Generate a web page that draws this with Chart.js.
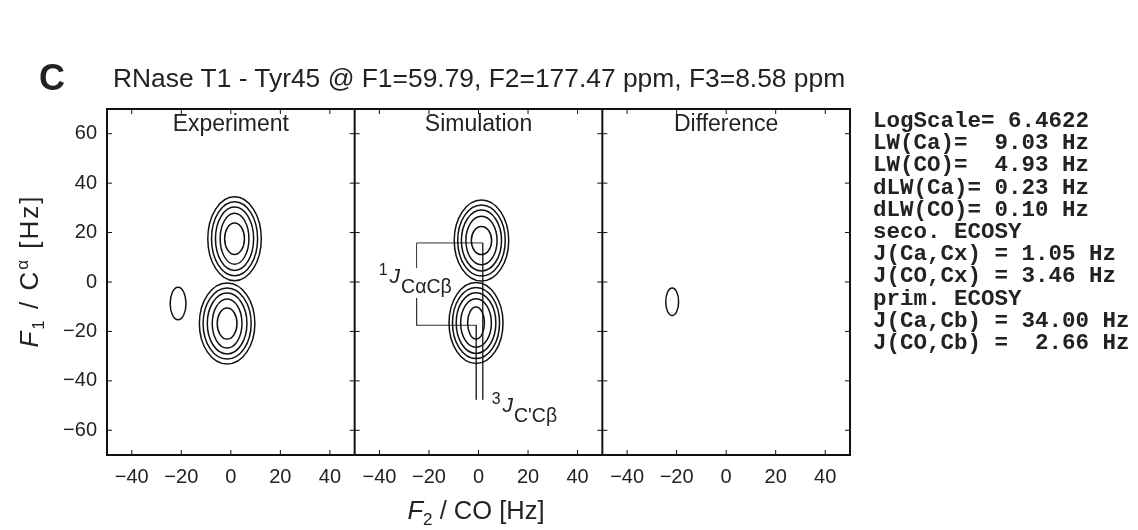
<!DOCTYPE html>
<html>
<head>
<meta charset="utf-8">
<script src="https://cdn.jsdelivr.net/npm/chart.js@4.4.0/dist/chart.umd.min.js"></script>
<style>
    body { margin: 0; background: #fff; }
    #wrap { position: relative; width: 1138px; height: 530px; font-family: "Liberation Sans", Arial, sans-serif; color: #222; }
    #plot { position: absolute; left: 0; top: 0; }
    .txt { position: absolute; white-space: nowrap; }
    #letter { left: 39px; top: 60px; font-size: 36px; font-weight: bold; line-height: 36px; }
    #title { left: 113px; top: 64px; font-size: 26.4px; line-height: 28px; }
    #info { left: 873px; top: 110px; margin: 0; white-space: pre; font-family: "Liberation Mono", "Courier New", monospace; font-weight: bold; font-size: 22.5px; line-height: 22.2px; }
    #xtitle { left: 476px; top: 497px; transform: translateX(-50%); font-size: 25.5px; line-height: 27px; }
    #ytitle { left: 31px; top: 271px; transform: translate(-50%, -50%) rotate(-90deg); font-size: 26px; line-height: 28px; letter-spacing: 2px; }
    sub, sup { font-size: 17px; }
</style>
</head>
<body>
<div id="wrap">
    <canvas id="plot" width="1138" height="530"></canvas>
    <div class="txt" id="letter">C</div>
    <div class="txt" id="title">RNase T1 - Tyr45 @ F1=59.79, F2=177.47 ppm, F3=8.58 ppm</div>
    <pre class="txt" id="info"></pre>
    <div class="txt" id="xtitle"><i>F</i><sub>2</sub> / CO [Hz]</div>
    <div class="txt" id="ytitle"><i>F</i><sub>1</sub> / C<sup>&alpha;</sup> [Hz]</div>
</div>
<script>
// panels share one y axis, x axis is split in three 100 Hz wide windows
const panelNames = ['Experiment', 'Simulation', 'Difference'];
const panelOffsets = [0, 100, 200];
const xTicks = [-40, -20, 0, 20, 40];
const yTicks = [-60, -40, -20, 0, 20, 40, 60];

// contour rings: centre [F2, F1] in Hz, half widths per level (outer -> inner)
const expUpperCentre = [1.5, 17.5];
const expUpperRx = [10.8, 9.3, 7.7, 5.8, 4.0];
const expUpperRy = [17.0, 15.0, 12.8, 10.3, 6.4];
const expLowerCentre = [-1.5, -16.8];
const expLowerRx = [11.2, 9.7, 8.0, 6.0, 4.0];
const expLowerRy = [16.4, 14.4, 12.3, 9.9, 6.3];
const expSideCentre = [-21.3, -8.7];
const expSideRx = [3.2];
const expSideRy = [6.6];

const simUpperCentre = [1.2, 16.8];
const simUpperRx = [11.0, 9.6, 8.1, 6.3, 4.1];
const simUpperRy = [16.4, 14.4, 12.3, 9.8, 5.7];
const simLowerCentre = [-1.0, -16.6];
const simLowerRx = [10.9, 9.5, 8.0, 6.2, 3.4];
const simLowerRy = [16.4, 14.4, 12.3, 9.8, 6.5];

const diffCentre = [-21.8, -8.0];
const diffRx = [2.6];
const diffRy = [5.6];

// coupling markers in the simulation panel
const jOneUpper = [[-25, 5.6], [-25, 15.8], [1.7, 15.8], [1.7, -47.6]];
const jOneLower = [[-25, -6.5], [-25, -17.5], [-0.9, -17.5], [-0.9, -47.6]];

const infoLines = [
    'LogScale= 6.4622',
    'LW(Ca)=  9.03 Hz',
    'LW(CO)=  4.93 Hz',
    'dLW(Ca)= 0.23 Hz',
    'dLW(CO)= 0.10 Hz',
    'seco. ECOSY',
    'J(Ca,Cx) = 1.05 Hz',
    'J(CO,Cx) = 3.46 Hz',
    'prim. ECOSY',
    'J(Ca,Cb) = 34.00 Hz',
    'J(CO,Cb) =  2.66 Hz'
];
document.querySelector('#info').textContent = infoLines.join('\n');

const peaks = [
    { panel: 0, c: expUpperCentre, rx: expUpperRx, ry: expUpperRy },
    { panel: 0, c: expLowerCentre, rx: expLowerRx, ry: expLowerRy },
    { panel: 0, c: expSideCentre, rx: expSideRx, ry: expSideRy },
    { panel: 1, c: simUpperCentre, rx: simUpperRx, ry: simUpperRy },
    { panel: 1, c: simLowerCentre, rx: simLowerRx, ry: simLowerRy },
    { panel: 2, c: diffCentre, rx: diffRx, ry: diffRy }
];

let allXTicks = [];
panelOffsets.forEach(off => xTicks.forEach(t => allXTicks.push(t + off)));

function toPanel(points, panel) {
    return points.map(p => ({ x: p[0] + panelOffsets[panel], y: p[1] }));
}

const fontFamily = '"Liberation Sans", Arial, sans-serif';

const framePlugin = {
    id: 'frame',
    afterDatasetsDraw(chart) {
        const ctx = chart.ctx;
        const area = chart.chartArea;
        const xs = chart.scales.x, ys = chart.scales.y;
        ctx.save();

        // contours
        ctx.strokeStyle = '#111';
        ctx.lineWidth = 1.5;
        for (let pk of peaks) {
            let cx = xs.getPixelForValue(pk.c[0] + panelOffsets[pk.panel]);
            let cy = ys.getPixelForValue(pk.c[1]);
            for (let i = 0; i < pk.rx.length; i++) {
                let rx = xs.getPixelForValue(pk.c[0] + pk.rx[i] + panelOffsets[pk.panel]) - cx;
                let ry = cy - ys.getPixelForValue(pk.c[1] + pk.ry[i]);
                ctx.beginPath();
                ctx.ellipse(cx, cy, rx, ry, 0, 0, Math.PI * 2);
                ctx.stroke();
            }
        }

        // frame and dividers
        ctx.strokeStyle = '#111';
        ctx.lineWidth = 2;
        ctx.strokeRect(area.left, area.top, area.right - area.left, area.bottom - area.top);
        for (let b of [50, 150]) {
            let px = xs.getPixelForValue(b);
            ctx.beginPath();
            ctx.moveTo(px, area.top);
            ctx.lineTo(px, area.bottom);
            ctx.stroke();
        }

        // inward ticks
        ctx.lineWidth = 1;
        const len = 5;
        for (let v of allXTicks) {
            let px = xs.getPixelForValue(v);
            ctx.beginPath();
            ctx.moveTo(px, area.bottom);
            ctx.lineTo(px, area.bottom - len);
            ctx.moveTo(px, area.top);
            ctx.lineTo(px, area.top + len);
            ctx.stroke();
        }
        for (let b of [-50, 50, 150, 250]) {
            let px = xs.getPixelForValue(b);
            for (let v of yTicks) {
                let py = ys.getPixelForValue(v);
                ctx.beginPath();
                if (b < 250) { ctx.moveTo(px, py); ctx.lineTo(px + len, py); }
                if (b > -50) { ctx.moveTo(px, py); ctx.lineTo(px - len, py); }
                ctx.stroke();
            }
        }

        // panel names
        ctx.fillStyle = '#222';
        ctx.font = '23px ' + fontFamily;
        ctx.textAlign = 'center';
        ctx.textBaseline = 'middle';
        panelNames.forEach((name, i) => {
            ctx.fillText(name, xs.getPixelForValue(panelOffsets[i]), area.top + 16);
        });

        // coupling labels
        drawJ(ctx, xs.getPixelForValue(-35.9 + 100), ys.getPixelForValue(-0.3), '1', 'C\u03b1C\u03b2');
        drawJ(ctx, xs.getPixelForValue(9.7 + 100), ys.getPixelForValue(-52.4), '3', "C'C\u03b2");
        ctx.restore();
    }
};

function drawJ(ctx, x, y, sup, sub) {
    ctx.textAlign = 'left';
    ctx.textBaseline = 'alphabetic';
    ctx.font = '16px ' + fontFamily;
    let w = ctx.measureText(sup).width;
    ctx.fillText(sup, x - w - 2, y - 8);
    ctx.font = 'italic 21px ' + fontFamily;
    let jw = ctx.measureText('J').width;
    ctx.fillText('J', x, y);
    ctx.font = '19.5px ' + fontFamily;
    ctx.fillText(sub, x + jw + 1, y + 10);
}

const lineStyle = { showLine: true, pointRadius: 0, borderColor: '#333', borderWidth: 1, fill: false };

new Chart(document.querySelector('#plot'), {
    type: 'scatter',
    data: {
        datasets: [
            Object.assign({ data: toPanel(jOneUpper, 1) }, lineStyle),
            Object.assign({ data: toPanel(jOneLower, 1) }, lineStyle)
        ]
    },
    options: {
        responsive: false,
        animation: false,
        devicePixelRatio: 1,
        layout: { padding: { left: 0, top: 109, right: 288, bottom: 0 } },
        plugins: { legend: { display: false }, tooltip: { enabled: false } },
        scales: {
            x: {
                type: 'linear',
                min: -50,
                max: 250,
                grid: { display: false, drawTicks: false },
                border: { display: false },
                afterBuildTicks: s => { s.ticks = allXTicks.map(v => ({ value: v })); },
                afterFit: s => { s.height = 75; },
                ticks: {
                    color: '#222',
                    padding: 10,
                    maxRotation: 0,
                    autoSkip: false,
                    font: { family: fontFamily, size: 20 },
                    callback: v => {
                        let t = v - 100 * Math.round(v / 100);
                        return t < 0 ? '\u2212' + Math.abs(t) : String(t);
                    }
                }
            },
            y: {
                type: 'linear',
                min: -70,
                max: 70,
                grid: { display: false, drawTicks: false },
                border: { display: false },
                afterBuildTicks: s => { s.ticks = yTicks.map(v => ({ value: v })); },
                afterFit: s => { s.width = 107; },
                ticks: {
                    color: '#222',
                    padding: 10,
                    font: { family: fontFamily, size: 20 },
                    callback: v => v < 0 ? '\u2212' + Math.abs(v) : String(v)
                }
            }
        }
    },
    plugins: [framePlugin]
});
</script>
</body>
</html>
